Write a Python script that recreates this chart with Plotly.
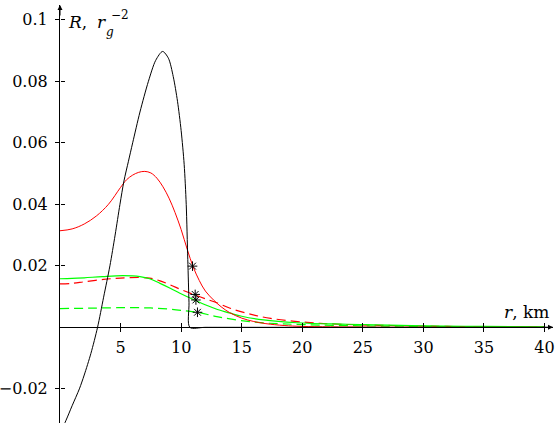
import plotly.graph_objects as go

# ---- data ----
black_r = [0, 0.5, 1.0, 1.6, 2.0, 2.55, 3.1, 3.6, 4.12, 4.55, 4.95, 5.28, 5.65, 6.0, 6.6, 7.3, 7.9, 8.47,
           8.95, 9.35, 9.7, 10.0, 10.25, 10.42, 10.55, 10.65, 10.72, 12, 20, 30, 40.7]
black_R = [-0.0345, -0.0302, -0.0255, -0.0200, -0.0155, -0.0085, 0.0, 0.0098, 0.0200, 0.0300, 0.0400, 0.0476,
           0.0540, 0.0600, 0.0700, 0.0800, 0.0868, 0.0897, 0.0875, 0.0815, 0.0735, 0.0640, 0.0530, 0.0400,
           0.0220, 0.0080, 0.0, 0.0, 0.0, 0.0, 0.0]

red_r = [0, 1, 2, 3, 4, 5, 5.5, 6, 6.5, 7, 7.5, 8, 8.5, 9, 9.5, 10, 10.5, 11, 11.5, 12, 12.7, 13.3, 14, 15,
         16, 17, 18.5, 20, 25, 30, 40]
red_R = [0.0314, 0.0320, 0.0336, 0.0362, 0.0400, 0.0455, 0.0480, 0.0495, 0.0504, 0.0507, 0.0502, 0.0485,
         0.0457, 0.0420, 0.0373, 0.0318, 0.0254, 0.0196, 0.0152, 0.0118, 0.0088, 0.0067, 0.0048, 0.0030,
         0.0019, 0.0012, 0.0006, 0.0003, 0.0001, 0.0, 0.0]

red_d_r = [0, 1, 2, 3.6, 5, 6.6, 7.4, 8.2, 9.1, 10.1, 11.15, 12, 13, 14.05, 15.7, 17.4, 20.4, 23.1, 27.3, 32, 40]
red_d_R = [0.0141, 0.0143, 0.0148, 0.0156, 0.0160, 0.0162, 0.0160, 0.0152, 0.0138, 0.0121, 0.0105, 0.0093,
           0.0079, 0.0062, 0.0043, 0.0029, 0.0016, 0.0010, 0.0006, 0.0003, 0.0001]

green_r = [0, 1, 2, 3.5, 5.2, 6.6, 7.4, 8.26, 9.1, 9.9, 11.15, 12.2, 13, 14.05, 15, 16.8, 19.55, 23.7, 30, 35, 40]
green_R = [0.0158, 0.0159, 0.0161, 0.0165, 0.0168, 0.0165, 0.0158, 0.0143, 0.0127, 0.0111, 0.0088, 0.0070,
           0.0058, 0.0046, 0.0036, 0.0024, 0.0015, 0.0010, 0.0005, 0.0003, 0.0002]

green_d_r = [0, 2, 3.5, 5.5, 7.45, 9.1, 10.3, 11.35, 12.95, 14.9, 17, 20, 25, 30, 35, 40]
green_d_R = [0.0061, 0.0062, 0.0063, 0.0064, 0.0063, 0.0059, 0.0054, 0.0049, 0.0035, 0.0022, 0.0014, 0.0009,
             0.0005, 0.0003, 0.0002, 0.0001]

star_r = [10.94, 11.16, 11.22, 11.35]
star_R = [0.0199, 0.0107, 0.0089, 0.0049]

x_ticks = [5, 10, 15, 20, 25, 30, 35, 40]
x_ticktext = ["5", "10", "15", "20", "25", "30", "35", "40"]
y_ticks = [-0.02, 0.02, 0.04, 0.06, 0.08, 0.1]
y_ticktext = ["\u22120.02", "0.02", "0.04", "0.06", "0.08", "0.1"]

# ---- figure ----
XR = [0, 40.7]
YR = [-0.0311, 0.1048]
FONT = "DejaVu Serif"
W, H = 560, 423
ML, MR, MT, MB = 60, 7, 5, 0
PW, PH = W - ML - MR, H - MT - MB

def px(xp):
    return (xp - ML) / PW

def py(yp):
    return (H - MB - yp) / PH

fig = go.Figure()
fig.add_trace(go.Scatter(x=red_d_r, y=red_d_R, mode="lines", line=dict(color="#ff0000", width=1.2, dash="9px,5px", shape="spline", smoothing=1)))
fig.add_trace(go.Scatter(x=green_d_r, y=green_d_R, mode="lines", line=dict(color="#00ff00", width=1.2, dash="9px,5px", shape="spline", smoothing=1)))
fig.add_trace(go.Scatter(x=green_r, y=green_R, mode="lines", line=dict(color="#00ff00", width=1.2, shape="spline", smoothing=1)))
fig.add_trace(go.Scatter(x=red_r, y=red_R, mode="lines", line=dict(color="#ff0000", width=1.0, shape="spline", smoothing=1)))
fig.add_trace(go.Scatter(x=black_r, y=black_R, mode="lines", line=dict(color="black", width=1.0, shape="spline", smoothing=0.8)))
fig.add_trace(go.Scatter(x=star_r, y=star_R, mode="markers",
                         marker=dict(symbol="asterisk-open", size=8, color="black", line=dict(color="black", width=1))))
# helper trace so the overlaying axes (inner half of the ticks) get drawn
fig.add_trace(go.Scatter(x=[XR[0]], y=[YR[0]], xaxis="x2", yaxis="y2", mode="markers",
                         marker=dict(opacity=0), hoverinfo="skip"))

pos0 = (0 - YR[0]) / (YR[1] - YR[0])
tickfont = dict(family=FONT, size=16, color="black")

fig.update_layout(
    width=W, height=H, margin=dict(l=ML, r=MR, t=MT, b=MB, autoexpand=False),
    font=dict(family=FONT, size=16, color="black"),
    paper_bgcolor="white", plot_bgcolor="white", showlegend=False,
    xaxis=dict(range=XR, showgrid=False, zeroline=False, showline=True, linecolor="black", linewidth=1,
               anchor="free", position=pos0, tickmode="array", tickvals=x_ticks, ticktext=x_ticktext,
               ticks="outside", ticklen=4, tickwidth=1, tickcolor="black", tickfont=tickfont,
               ticklabelstandoff=1, automargin=False),
    yaxis=dict(range=YR, showgrid=False, zeroline=False, showline=True, linecolor="black", linewidth=1,
               tickmode="array", tickvals=y_ticks, ticktext=y_ticktext,
               ticks="outside", ticklen=4, tickwidth=1, tickcolor="black", tickfont=tickfont,
               ticklabelstandoff=4, automargin=False),
    xaxis2=dict(range=XR, overlaying="x", anchor="free", position=pos0, showgrid=False, zeroline=False,
                showline=False, tickmode="array", tickvals=x_ticks, ticks="inside", ticklen=4,
                tickwidth=1, tickcolor="black", showticklabels=False, automargin=False),
    yaxis2=dict(range=YR, overlaying="y", anchor="free", position=0, showgrid=False, zeroline=False,
                showline=False, tickmode="array", tickvals=y_ticks, ticks="inside", ticklen=4,
                tickwidth=1, tickcolor="black", showticklabels=False, automargin=False),
)

# axis arrows
fig.add_annotation(x=XR[1], y=0, xref="x", yref="y", ax=-12, ay=0, axref="pixel", ayref="pixel",
                   text="", showarrow=True, arrowhead=2, arrowsize=1, arrowwidth=1, arrowcolor="black",
                   standoff=0)
fig.add_annotation(x=0, y=YR[1], xref="x", yref="y", ax=0, ay=12, axref="pixel", ayref="pixel",
                   text="", showarrow=True, arrowhead=2, arrowsize=1, arrowwidth=1, arrowcolor="black",
                   standoff=0)

# axis titles
lab = dict(family=FONT, size=17, color="black")
small = dict(family=FONT, size=12, color="black")
fig.add_annotation(x=px(66), y=py(22), xref="paper", yref="paper", text="<i>R</i>,", showarrow=False,
                   xanchor="left", yanchor="middle", font=lab)
fig.add_annotation(x=px(95), y=py(22), xref="paper", yref="paper", text="<i>r</i>", showarrow=False,
                   xanchor="left", yanchor="middle", font=lab)
fig.add_annotation(x=px(104), y=py(32), xref="paper", yref="paper", text="<i>g</i>", showarrow=False,
                   xanchor="left", yanchor="middle", font=small)
fig.add_annotation(x=px(109), y=py(15), xref="paper", yref="paper", text="\u22122", showarrow=False,
                   xanchor="left", yanchor="middle", font=small)
fig.add_annotation(x=px(551), y=py(312), xref="paper", yref="paper", text="<i>r</i>, km", showarrow=False,
                   xanchor="right", yanchor="middle", font=lab)

fig.write_html("out.html", config={"displayModeBar": False},
               post_script="document.body.style.margin='0';")
